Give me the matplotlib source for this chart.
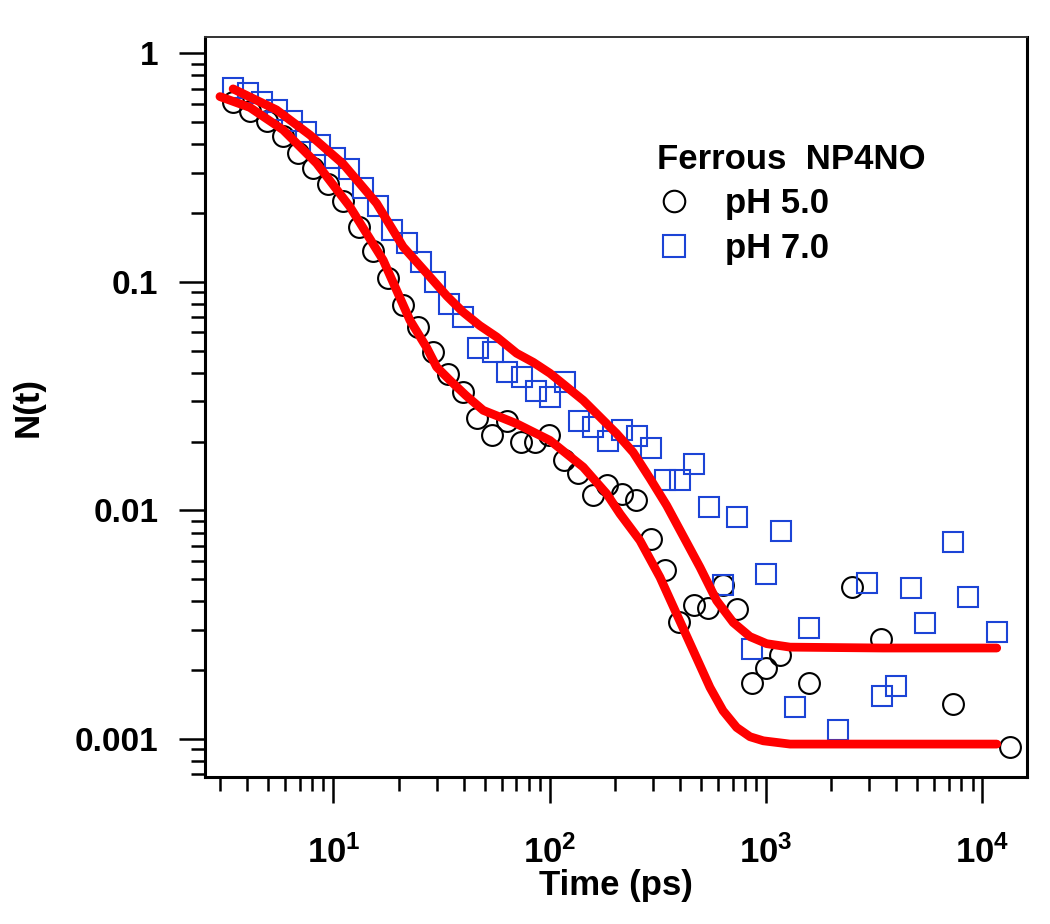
import matplotlib
matplotlib.use("Agg")
import matplotlib.pyplot as plt
from matplotlib.ticker import FixedLocator, FixedFormatter, LogLocator, NullFormatter
from matplotlib.lines import Line2D

plt.rcParams['font.family'] = ['Liberation Sans', 'DejaVu Sans']
plt.rcParams['font.weight'] = 'bold'
plt.rcParams['mathtext.fontset'] = 'custom'
plt.rcParams['mathtext.bf'] = 'Liberation Sans:bold'
plt.rcParams['mathtext.rm'] = 'Liberation Sans:bold'
plt.rcParams['mathtext.default'] = 'bf'

# ---- data ----
ph5_t = [3.44, 4.11, 4.91, 5.86, 6.88, 8.06, 9.46, 11.1, 13.2, 15.3,
         17.9, 21.0, 24.7, 28.9, 33.9, 39.6, 45.9, 53.9, 63.2, 73.4,
         85.4, 99.5, 116.3, 135.5, 158.4, 184.4, 215, 250.3, 292.8, 340.9,
         396.9, 464.2, 540.4, 630, 735.9, 858, 999, 1160, 1579, 2502,
         3398, 7290, 13420]
ph5_n = [0.609, 0.556, 0.505, 0.432, 0.365, 0.3135, 0.2677, 0.2266, 0.174, 0.1368,
         0.1034, 0.0790, 0.0635, 0.0494, 0.0394, 0.0330, 0.02527, 0.02129, 0.02459, 0.01989,
         0.01989, 0.0214, 0.01654, 0.01458, 0.01162, 0.01286, 0.01182, 0.01105, 0.007459, 0.005494,
         0.003262, 0.003871, 0.003729, 0.004736, 0.003707, 0.00175, 0.00204, 0.002333, 0.001763, 0.004609,
         0.002739, 0.001422, 0.000922]

ph7_t = [3.44, 4.02, 4.69, 5.51, 6.41, 7.49, 8.69, 10.16, 11.82, 13.73,
         16.06, 18.74, 21.8, 25.3, 29.46, 34.3, 39.82, 46.71, 54.45, 63.62,
         74.16, 86.36, 100.2, 117.6, 136.9, 158.9, 185.2, 216.4, 252.2, 293.7,
         342.7, 399.9, 465.6, 544.5, 632.3, 735.9, 858, 1004, 1168, 1360,
         1584, 2157, 2937, 3423, 3987, 4652, 5399, 7337, 8533, 11645]
ph7_n = [0.705, 0.668, 0.614, 0.5616, 0.505, 0.4498, 0.3966, 0.3468, 0.3113, 0.257,
         0.2144, 0.1691, 0.1472, 0.1216, 0.0999, 0.080, 0.070, 0.0512, 0.0494, 0.0402,
         0.03847, 0.03334, 0.03122, 0.03642, 0.02459, 0.02314, 0.02014, 0.0225, 0.02122, 0.0188,
         0.01352, 0.01352, 0.01589, 0.01033, 0.004736, 0.0094, 0.002476, 0.005278, 0.0081, 0.001384,
         0.003059, 0.001094, 0.004824, 0.001543, 0.001701, 0.004562, 0.003218, 0.007252, 0.004196, 0.002924]

fit5_t = [2.99, 4.11, 5.86, 8.36, 11.92, 16.99, 22.58, 27.0, 30.0, 34.56, 41.0, 49.27,
          70.3, 100.2, 142.8, 183.3, 211.2, 261.2, 323.2, 414.2, 550.4, 632.3,
          731.4, 842.6, 970.5, 1290, 3471, 11645]
fit5_n = [0.6455, 0.5787, 0.4614, 0.3297, 0.2129, 0.1243, 0.0679, 0.0515, 0.04239, 0.03707, 0.0318, 0.02739,
          0.02394, 0.02024, 0.01546, 0.01182, 0.00966, 0.00738, 0.0051, 0.00304, 0.00168, 0.001329,
          0.001123, 0.001023, 0.000982, 0.00095, 0.00095, 0.00095]

fit7_t = [3.44, 5.46, 7.79, 11.1, 15.84, 21.0, 27.93, 33.5, 39.82, 47.5, 56.82, 70.3,
          83.9, 100.2, 142.8, 203.9, 243.2, 290.6, 347.1, 494.8, 590.9, 705.3,
          842.6, 1006, 1290, 3471, 11645]
fit7_n = [0.6976, 0.5646, 0.4387, 0.3274, 0.2203, 0.1422, 0.1051, 0.0865, 0.07358, 0.0643, 0.05736, 0.04867,
          0.04444, 0.03979, 0.0303, 0.02165, 0.01793, 0.0138, 0.01051, 0.00564, 0.00403, 0.00323,
          0.002804, 0.002612, 0.002522, 0.0025, 0.0025]

x_ticks = [10, 100, 1000, 10000]
x_ticklabels = [r'$\mathbf{10^{1}}$', r'$\mathbf{10^{2}}$', r'$\mathbf{10^{3}}$', r'$\mathbf{10^{4}}$']
y_ticks = [1, 0.1, 0.01, 0.001]
y_ticklabels = ['1', '0.1', '0.01', '0.001']

legend_title = 'Ferrous  NP4NO'
labels = ['pH 5.0', 'pH 7.0']

blue = '#1c44d6'

fig = plt.figure(figsize=(10.5, 9.24), dpi=100)
ax = fig.add_axes([205/1050, 1 - 776.7/924, (1027 - 205)/1050, (776.7 - 36.7)/924])
ax.set_xscale('log')
ax.set_yscale('log')
ax.set_xlim(2.55, 16070)
ax.set_ylim(6.84e-4, 1.18)

ax.plot(ph5_t, ph5_n, linestyle='none', marker='o', markersize=15,
        markerfacecolor='none', markeredgecolor='black', markeredgewidth=1.5, zorder=2)
ax.plot(ph7_t, ph7_n, linestyle='none', marker='s', markersize=15,
        markerfacecolor='none', markeredgecolor=blue, markeredgewidth=1.5, zorder=2)
ax.plot(fit5_t, fit5_n, color='#ff0000', lw=6.3, solid_capstyle='round',
        solid_joinstyle='round', zorder=3)
ax.plot(fit7_t, fit7_n, color='#ff0000', lw=6.3, solid_capstyle='round',
        solid_joinstyle='round', zorder=3)

# axes styling
for side in ['left', 'bottom', 'right']:
    ax.spines[side].set_linewidth(2.2)
    ax.spines[side].set_color('black')
ax.spines['top'].set_linewidth(1.4)
ax.spines['top'].set_color('#333333')

ax.xaxis.set_major_locator(FixedLocator(x_ticks))
ax.xaxis.set_major_formatter(FixedFormatter(x_ticklabels))
ax.xaxis.set_minor_locator(LogLocator(base=10, subs=range(2, 10), numticks=20))
ax.xaxis.set_minor_formatter(NullFormatter())
ax.yaxis.set_major_locator(FixedLocator(y_ticks))
ax.yaxis.set_major_formatter(FixedFormatter(y_ticklabels))
ax.yaxis.set_minor_locator(LogLocator(base=10, subs=range(2, 10), numticks=20))
ax.yaxis.set_minor_formatter(NullFormatter())

ax.tick_params(which='major', direction='out', length=18.5, width=1.8)
ax.tick_params(which='minor', direction='out', length=10, width=1.8)
ax.tick_params(top=False, right=False, which='both')
ax.tick_params(axis='x', which='major', labelsize=25, pad=24)
ax.tick_params(axis='y', which='major', labelsize=24, pad=15)
for lab in ax.get_yticklabels():
    lab.set_fontweight('bold')

ax.set_xlabel('Time (ps)', fontsize=25, fontweight='bold', labelpad=-1)
ax.set_ylabel('N(t)', fontsize=25, fontweight='bold', labelpad=22)

handles = [Line2D([], [], linestyle='none', marker='o', markersize=15.5,
                  markerfacecolor='none', markeredgecolor='black', markeredgewidth=1.5),
           Line2D([], [], linestyle='none', marker='s', markersize=15.5,
                  markerfacecolor='none', markeredgecolor=blue, markeredgewidth=1.5)]
leg = ax.legend(handles, labels, title=legend_title, loc='upper left',
                bbox_to_anchor=((657 - 205) / 822, (776.7 - 143) / 740),
                frameon=False, borderpad=0, borderaxespad=0,
                handlelength=1.0, handletextpad=0.95, labelspacing=0.33,
                alignment='left',
                prop={'size': 25, 'weight': 'bold'},
                title_fontproperties={'size': 25, 'weight': 'bold'})

fig.savefig('out.png', dpi=100)
